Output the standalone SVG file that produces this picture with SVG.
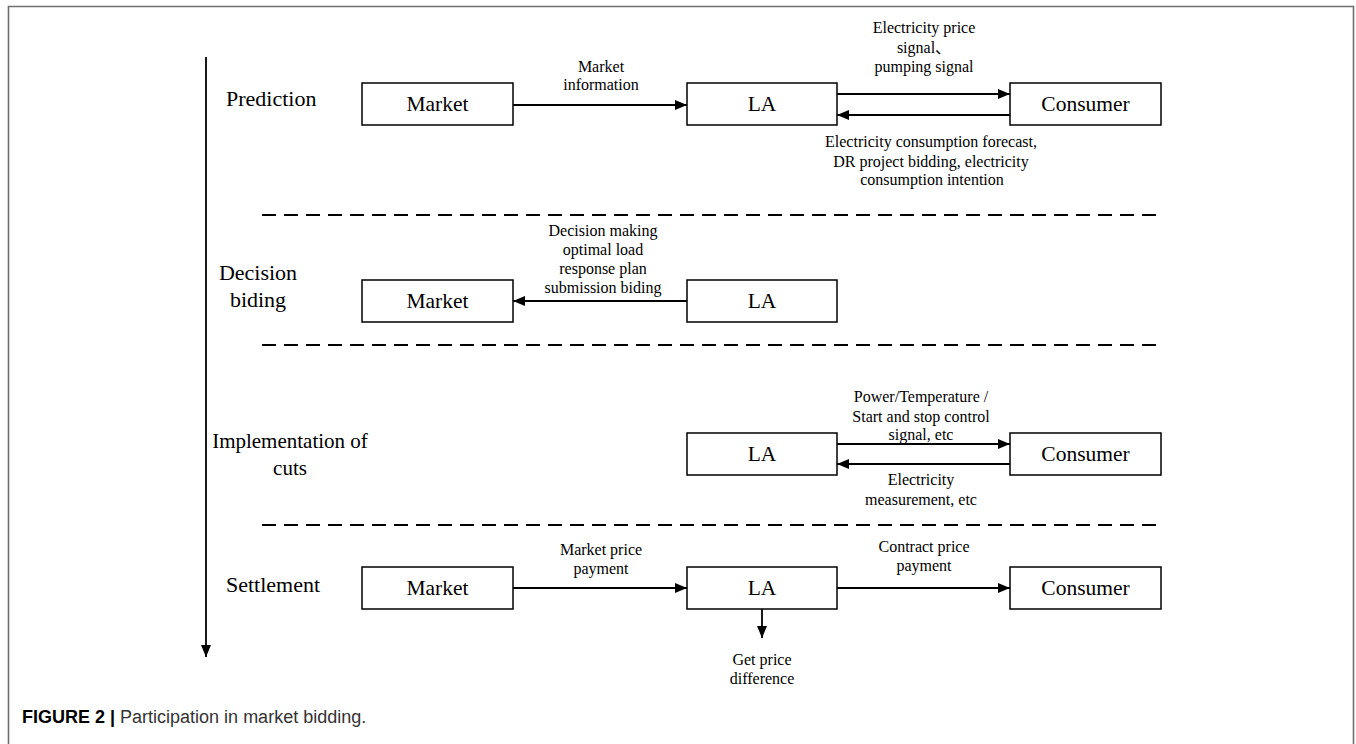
<svg xmlns="http://www.w3.org/2000/svg" width="1356" height="744" viewBox="0 0 1356 744">
  <style>
    .frame { fill: none; stroke: #6f6f6f; stroke-width: 1.6; }
    .box { fill: #ffffff; stroke: #000000; stroke-width: 1.5; }
    .flow { fill: none; stroke: #000000; stroke-width: 1.8; }
    .sep { fill: none; stroke: #000000; stroke-width: 1.8; stroke-dasharray: 14 8; }
    .name { font-family: "Liberation Serif", "Times New Roman", serif; font-size: 21.5px; fill: #000; text-anchor: middle; }
    .stage { font-family: "Liberation Serif", "Times New Roman", serif; font-size: 22px; fill: #000; }
    .stage.small { font-size: 21px; }
    .lbl { font-family: "Liberation Serif", "Noto Sans CJK SC", serif; font-size: 16px; fill: #000; text-anchor: middle; }
    .cap { font-family: "Liberation Sans", Arial, sans-serif; font-size: 18px; fill: #333; }
  </style>
  <defs>
    <marker id="head" viewBox="0 0 12 10" refX="12" refY="5" markerWidth="12" markerHeight="10" markerUnits="userSpaceOnUse" orient="auto">
      <path d="M0,0 L12,5 L0,10 Z" fill="#000"/>
    </marker>
  </defs>

  <!-- page frame -->
  <path class="frame" d="M8.5,744 V6.5 H1353.5 V744"/>

  <!-- time axis -->
  <g id="time-axis">
    <line class="flow" x1="206" y1="57" x2="206" y2="657" marker-end="url(#head)"/>
  </g>

  <!-- stage titles -->
  <g id="stages">
    <text class="stage" x="226" y="106">Prediction</text>
    <text class="stage" x="258" y="280" text-anchor="middle">Decision</text>
    <text class="stage" x="258" y="307" text-anchor="middle">biding</text>
    <text class="stage small" x="290" y="448" text-anchor="middle">Implementation of</text>
    <text class="stage small" x="290" y="475" text-anchor="middle">cuts</text>
    <text class="stage" x="226" y="592">Settlement</text>
  </g>

  <!-- phase separators -->
  <g id="separators">
    <line class="sep" x1="262" y1="215" x2="1157" y2="215"/>
    <line class="sep" x1="262" y1="345" x2="1157" y2="345"/>
    <line class="sep" x1="262" y1="525" x2="1157" y2="525"/>
  </g>

  <!-- prediction phase -->
  <g id="p-market"><rect class="box" x="362" y="83" width="151" height="42"/><text class="name" x="437.5" y="111">Market</text></g>
  <g id="p-la"><rect class="box" x="687" y="83" width="150" height="42"/><text class="name" x="762" y="111">LA</text></g>
  <g id="p-consumer"><rect class="box" x="1010" y="83" width="151" height="42"/><text class="name" x="1085.5" y="111">Consumer</text></g>

  <!-- decision phase -->
  <g id="d-market"><rect class="box" x="362" y="280" width="151" height="42"/><text class="name" x="437.5" y="308">Market</text></g>
  <g id="d-la"><rect class="box" x="687" y="280" width="150" height="42"/><text class="name" x="762" y="308">LA</text></g>

  <!-- implementation phase -->
  <g id="i-la"><rect class="box" x="687" y="433" width="150" height="42"/><text class="name" x="762" y="461">LA</text></g>
  <g id="i-consumer"><rect class="box" x="1010" y="433" width="151" height="42"/><text class="name" x="1085.5" y="461">Consumer</text></g>

  <!-- settlement phase -->
  <g id="s-market"><rect class="box" x="362" y="567" width="151" height="42"/><text class="name" x="437.5" y="595">Market</text></g>
  <g id="s-la"><rect class="box" x="687" y="567" width="150" height="42"/><text class="name" x="762" y="595">LA</text></g>
  <g id="s-consumer"><rect class="box" x="1010" y="567" width="151" height="42"/><text class="name" x="1085.5" y="595">Consumer</text></g>

  <!-- message flows -->
  <g id="connectors">
    <line class="flow" x1="513" y1="105" x2="687" y2="105" marker-end="url(#head)"/>
    <line class="flow" x1="837" y1="94" x2="1010" y2="94" marker-end="url(#head)"/>
    <line class="flow" x1="1010" y1="115" x2="837" y2="115" marker-end="url(#head)"/>
    <line class="flow" x1="687" y1="301" x2="513" y2="301" marker-end="url(#head)"/>
    <line class="flow" x1="837" y1="444" x2="1010" y2="444" marker-end="url(#head)"/>
    <line class="flow" x1="1010" y1="464" x2="837" y2="464" marker-end="url(#head)"/>
    <line class="flow" x1="513" y1="588" x2="687" y2="588" marker-end="url(#head)"/>
    <line class="flow" x1="837" y1="588" x2="1010" y2="588" marker-end="url(#head)"/>
    <line class="flow" x1="762" y1="609" x2="762" y2="638" marker-end="url(#head)"/>
  </g>

  <!-- flow labels -->
  <g id="labels">
    <text class="lbl" x="601" y="72">Market</text>
    <text class="lbl" x="601" y="90">information</text>

    <text class="lbl" x="924" y="33">Electricity price</text>
    <text class="lbl" x="924" y="53">signal、</text>
    <text class="lbl" x="924" y="72">pumping signal</text>

    <text class="lbl" x="931" y="147">Electricity consumption forecast,</text>
    <text class="lbl" x="931" y="167">DR project bidding, electricity</text>
    <text class="lbl" x="932" y="185">consumption intention</text>

    <text class="lbl" x="603" y="236">Decision making</text>
    <text class="lbl" x="603" y="255">optimal load</text>
    <text class="lbl" x="603" y="274">response plan</text>
    <text class="lbl" x="603" y="293">submission biding</text>

    <text class="lbl" x="921" y="402">Power/Temperature /</text>
    <text class="lbl" x="921" y="422">Start and stop control</text>
    <text class="lbl" x="921" y="440">signal, etc</text>
    <text class="lbl" x="921" y="485">Electricity</text>
    <text class="lbl" x="921" y="505">measurement, etc</text>

    <text class="lbl" x="601" y="555">Market price</text>
    <text class="lbl" x="601" y="574">payment</text>
    <text class="lbl" x="924" y="552">Contract price</text>
    <text class="lbl" x="924" y="571">payment</text>

    <text class="lbl" x="762" y="665">Get price</text>
    <text class="lbl" x="762" y="684">difference</text>
  </g>

  <!-- caption -->
  <text class="cap" x="22" y="723"><tspan font-weight="bold" fill="#000">FIGURE 2 |</tspan> Participation in market bidding.</text>
</svg>
